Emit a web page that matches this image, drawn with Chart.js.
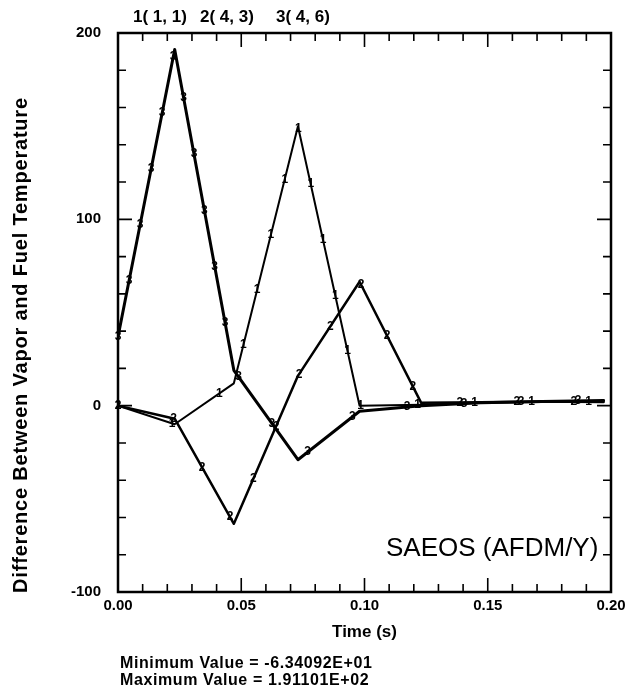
<!DOCTYPE html>
<html>
<head>
<meta charset="utf-8">
<title>SAEOS (AFDM/Y)</title>
<script src="https://cdn.jsdelivr.net/npm/chart.js@4.4.1/dist/chart.umd.min.js"></script>
<style>
  html, body { margin: 0; padding: 0; background: #fff; }
  #chart { display: block; }
</style>
</head>
<body>
<canvas id="chart" width="644" height="696"></canvas>
<script>
// ── Data ───────────────────────────────────────────────────
var tempi = [0, 0.023, 0.047, 0.073, 0.098, 0.123, 0.147, 0.172, 0.197];
var curva1 = [0, -10, 12, 150, 0, 0.5, 1.5, 2, 2.5];
var curva2 = [0, -7, -63.4, 16, 66.5, 1.5, 1.8, 2.3, 2];
var curva3 = [37, 191.1, 19, -29, -3, 0, 1.5, 2.3, 2.8];
var simboli = ['1', '2', '3'];
var nomiCurve = ['1( 1, 1)', '2( 4, 3)', '3( 4, 6)'];
var tickX = [0, 0.05, 0.10, 0.15, 0.20];
var tickY = [-100, 0, 100, 200];
var righeInfo = ['Minimum Value = -6.34092E+01', 'Maximum Value = 1.91101E+02'];

var FONT = '"Liberation Sans", Arial, sans-serif';
var PASSO_SIMBOLI = 57; // px along the curve between two symbols

document.addEventListener('DOMContentLoaded', function () {

    function punti(valori) {
        return tempi.map(function (t, i) { return { x: t, y: valori[i] }; });
    }

    // ── Symbols along each curve (every N px of arc length) ────
    var simboliPlugin = {
        id: 'simboli',
        afterDatasetsDraw: function (chart) {
            var ctx = chart.ctx;
            ctx.save();
            ctx.fillStyle = '#000';
            ctx.font = 'bold 12px ' + FONT;
            ctx.textAlign = 'center';
            ctx.textBaseline = 'middle';
            chart.data.datasets.forEach(function (ds, i) {
                var pts = chart.getDatasetMeta(i).data;
                var prossimo = 0, percorso = 0;
                for (var k = 0; k < pts.length - 1; k++) {
                    var ax = pts[k].x, ay = pts[k].y;
                    var bx = pts[k + 1].x, by = pts[k + 1].y;
                    var len = Math.hypot(bx - ax, by - ay);
                    while (prossimo <= percorso + len) {
                        var f = (prossimo - percorso) / len;
                        ctx.fillText(simboli[i], ax + f * (bx - ax), ay + f * (by - ay));
                        prossimo += PASSO_SIMBOLI;
                    }
                    percorso += len;
                }
            });
            ctx.restore();
        }
    };

    // ── Frame, inner ticks and free texts ──────────────────────
    var cornicePlugin = {
        id: 'cornice',
        afterDraw: function (chart) {
            var ctx = chart.ctx;
            var a = chart.chartArea;
            var xs = chart.scales.x, ys = chart.scales.y;
            var i, v, p, len;

            ctx.save();
            ctx.strokeStyle = '#000';
            ctx.lineWidth = 2.5;
            ctx.strokeRect(a.left, a.top, a.right - a.left, a.bottom - a.top);

            ctx.lineWidth = 1.6;
            ctx.beginPath();
            for (i = 1; i < 20; i++) {
                v = i * 0.01;
                p = xs.getPixelForValue(v);
                len = i % 5 === 0 ? 14 : 8;
                ctx.moveTo(p, a.bottom); ctx.lineTo(p, a.bottom - len);
                ctx.moveTo(p, a.top); ctx.lineTo(p, a.top + len);
            }
            for (i = -4; i < 10; i++) {
                v = i * 20;
                p = ys.getPixelForValue(v);
                len = v % 100 === 0 ? 14 : 8;
                ctx.moveTo(a.left, p); ctx.lineTo(a.left + len, p);
                ctx.moveTo(a.right, p); ctx.lineTo(a.right - len, p);
            }
            ctx.stroke();

            ctx.fillStyle = '#000';
            ctx.textBaseline = 'middle';

            // curve legend above the frame
            ctx.font = 'bold 17px ' + FONT;
            ctx.textAlign = 'left';
            var xLeg = [133, 200, 276];
            nomiCurve.forEach(function (n, k) { ctx.fillText(n, xLeg[k], 17); });

            // case label
            ctx.font = '26px ' + FONT;
            ctx.fillText('SAEOS (AFDM/Y)', 386, 549);

            // min / max lines under the x title
            ctx.font = 'bold 16px ' + FONT;
            ctx.letterSpacing = '0.6px';
            ctx.fillText(righeInfo[0], 120, 664);
            ctx.fillText(righeInfo[1], 120, 681);

            // y axis title
            ctx.font = 'bold 20px ' + FONT;
            ctx.letterSpacing = '0.8px';
            ctx.textAlign = 'center';
            ctx.translate(21, 345);
            ctx.rotate(-Math.PI / 2);
            ctx.fillText('Difference Between Vapor and Fuel Temperature', 0, 0);
            ctx.restore();
        }
    };

    var ctx = document.getElementById('chart').getContext('2d');
    new Chart(ctx, {
        type: 'line',
        data: {
            datasets: [
                { data: punti(curva1), borderColor: '#000', borderWidth: 2 },
                { data: punti(curva2), borderColor: '#000', borderWidth: 2.5 },
                { data: punti(curva3), borderColor: '#000', borderWidth: 3 }
            ]
        },
        options: {
            responsive: false,
            animation: false,
            events: [],
            layout: { padding: { top: 33, right: 33, left: 0, bottom: 0 } },
            elements: {
                point: { radius: 0 },
                line: { tension: 0, fill: false, borderJoinStyle: 'round', borderCapStyle: 'round' }
            },
            plugins: {
                legend: { display: false },
                tooltip: { enabled: false }
            },
            scales: {
                x: {
                    type: 'linear',
                    min: 0,
                    max: 0.2,
                    afterFit: function (s) { s.height = 104; },
                    afterBuildTicks: function (s) {
                        s.ticks = tickX.map(function (v) { return { value: v }; });
                    },
                    grid: { display: false, drawTicks: false },
                    border: { display: false },
                    ticks: {
                        color: '#000',
                        padding: 5,
                        maxRotation: 0,
                        autoSkip: false,
                        font: { family: FONT, size: 15, weight: 'bold' },
                        callback: function (v) { return Number(v).toFixed(2); }
                    },
                    title: {
                        display: true,
                        text: 'Time (s)',
                        color: '#000',
                        font: { family: FONT, size: 17, weight: 'bold' },
                        padding: { top: 0, bottom: 53 }
                    }
                },
                y: {
                    min: -100,
                    max: 200,
                    afterFit: function (s) { s.width = 118; },
                    afterBuildTicks: function (s) {
                        s.ticks = tickY.map(function (v) { return { value: v }; });
                    },
                    grid: { display: false, drawTicks: false },
                    border: { display: false },
                    ticks: {
                        color: '#000',
                        padding: 17,
                        font: { family: FONT, size: 15, weight: 'bold' }
                    }
                }
            }
        },
        plugins: [simboliPlugin, cornicePlugin]
    });
});
</script>
</body>
</html>
